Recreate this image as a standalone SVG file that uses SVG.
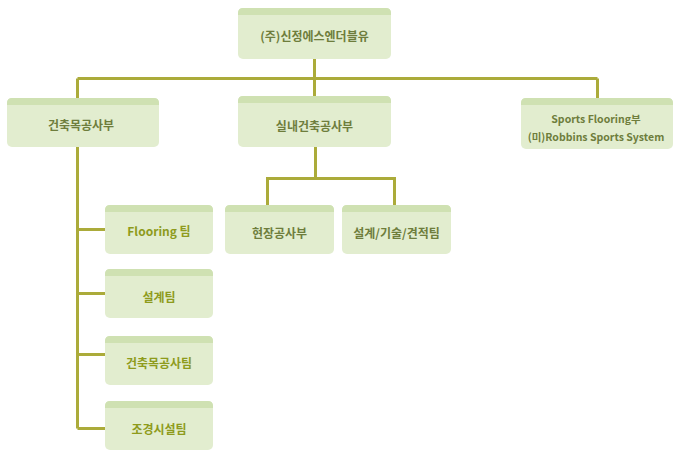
<svg xmlns="http://www.w3.org/2000/svg" width="680" height="467" viewBox="0 0 680 467">
<style>
.body{fill:#E2EDCF}
.strip{fill:#CFE1B2}
.c{stroke:#ABAB3A;stroke-width:3;fill:none}
.t{font-family:"Noto Sans CJK KR","Noto Sans",sans-serif;font-size:12px;font-weight:bold;text-anchor:middle;dominant-baseline:central}
.m{fill:#6E7D3C}
.s{fill:#8E9B1C}
.e{font-size:10.5px}
</style>
<rect width="680" height="467" fill="#FFFFFF"/>
<g id="connectors">
<path class="c" d="M314.5 59V78.5M77.5 78.5H597.5M77.5 78.5V98M314.5 78.5V96M597.5 78.5V98"/>
<path class="c" d="M315.5 147V178.5M267.5 205V178.5H394.5V205"/>
<path class="c" d="M77.5 147V428.5M77.5 229.5H105M77.5 293.5H105M77.5 354.5H105M77.5 428.5H105"/>
</g>
<g id="n_top">
<rect class="body" x="238" y="8" width="153" height="51" rx="5"/>
<path class="strip" d="M238 15V13Q238 8 243 8H386Q391 8 391 13V15Z"/>
<text class="t m" x="314.5" y="35">(주)신정에스엔더블유</text>
</g>
<g id="n_left">
<rect class="body" x="7" y="98" width="152" height="49" rx="5"/>
<path class="strip" d="M7 105V103Q7 98 12 98H154Q159 98 159 103V105Z"/>
<text class="t m" x="81" y="124">건축목공사부</text>
</g>
<g id="n_mid">
<rect class="body" x="238" y="96" width="153" height="51" rx="5"/>
<path class="strip" d="M238 103V101Q238 96 243 96H386Q391 96 391 101V103Z"/>
<text class="t m" x="314.5" y="125">실내건축공사부</text>
</g>
<g id="n_right">
<rect class="body" x="521" y="98" width="152" height="51" rx="5"/>
<path class="strip" d="M521 105V103Q521 98 526 98H668Q673 98 673 103V105Z"/>
<text class="t m e" x="596" y="118">Sports Flooring부</text>
<text class="t m e" x="596" y="136">(미)Robbins Sports System</text>
</g>
<g id="n_site">
<rect class="body" x="225" y="205" width="109" height="49" rx="5"/>
<path class="strip" d="M225 212V210Q225 205 230 205H329Q334 205 334 210V212Z"/>
<text class="t m" x="279.5" y="232">현장공사부</text>
</g>
<g id="n_design">
<rect class="body" x="342" y="205" width="109" height="49" rx="5"/>
<path class="strip" d="M342 212V210Q342 205 347 205H446Q451 205 451 210V212Z"/>
<text class="t m" x="396.5" y="232">설계/기술/견적팀</text>
</g>
<g id="n_flooring">
<rect class="body" x="105" y="205" width="108" height="49" rx="5"/>
<path class="strip" d="M105 212V210Q105 205 110 205H208Q213 205 213 210V212Z"/>
<text class="t s" x="159" y="230">Flooring 팀</text>
</g>
<g id="n_sg">
<rect class="body" x="105" y="269" width="108" height="49" rx="5"/>
<path class="strip" d="M105 276V274Q105 269 110 269H208Q213 269 213 274V276Z"/>
<text class="t s" x="159" y="296">설계팀</text>
</g>
<g id="n_wood">
<rect class="body" x="105" y="336" width="108" height="49" rx="5"/>
<path class="strip" d="M105 343V341Q105 336 110 336H208Q213 336 213 341V343Z"/>
<text class="t s" x="159" y="362">건축목공사팀</text>
</g>
<g id="n_land">
<rect class="body" x="105" y="401" width="108" height="49" rx="5"/>
<path class="strip" d="M105 408V406Q105 401 110 401H208Q213 401 213 406V408Z"/>
<text class="t s" x="159" y="428">조경시설팀</text>
</g>
</svg>
